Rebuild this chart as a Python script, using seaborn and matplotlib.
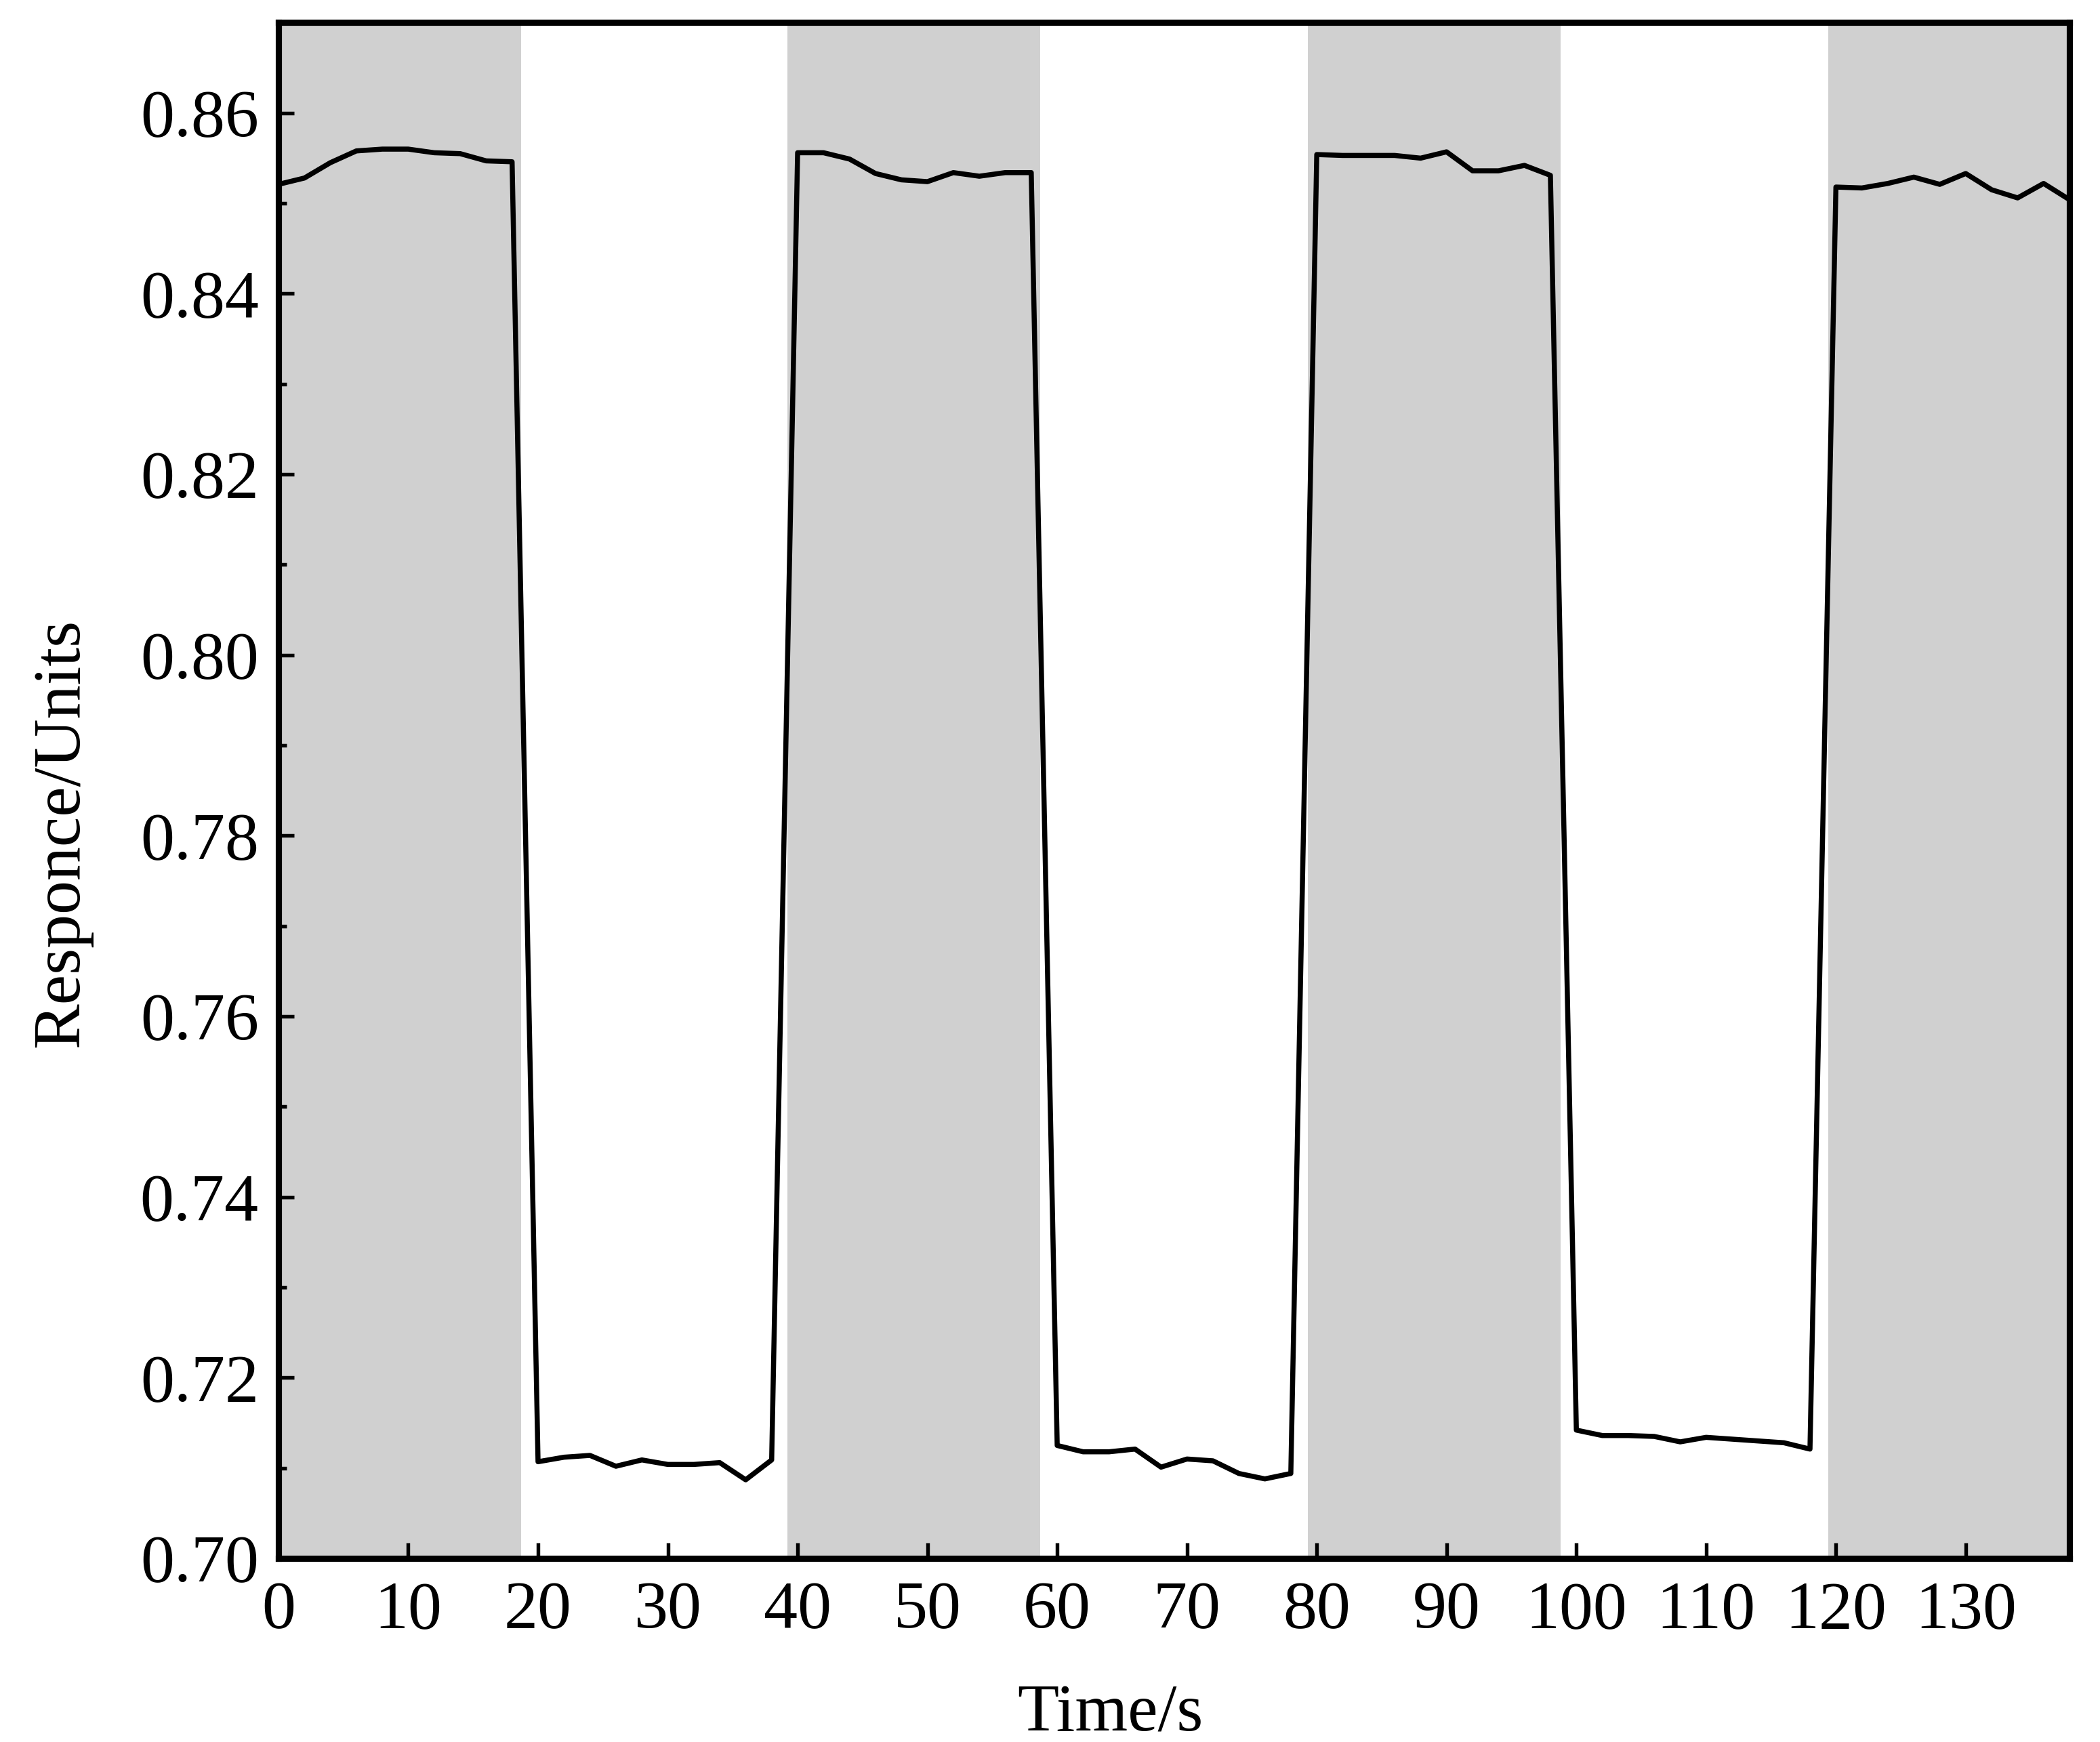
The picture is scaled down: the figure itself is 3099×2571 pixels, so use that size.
import numpy as np
import pandas as pd
import seaborn as sns
import matplotlib.pyplot as plt
from matplotlib.ticker import MultipleLocator

# Datos (muestreo cada 2 s)
time = [0, 2, 4, 6, 8, 10, 12, 14, 16, 18,
        20, 22, 24, 26, 28, 30, 32, 34, 36, 38,
        40, 42, 44, 46, 48, 50, 52, 54, 56, 58,
        60, 62, 64, 66, 68, 70, 72, 74, 76, 78,
        80, 82, 84, 86, 88, 90, 92, 94, 96, 98,
        100, 102, 104, 106, 108, 110, 112, 114, 116, 118,
        120, 122, 124, 126, 128, 130, 132, 134, 136, 138]

high_1 = [0.8521, 0.8528, 0.8545, 0.8558, 0.8560, 0.8560, 0.8556, 0.8555, 0.8547, 0.8546]
low_1 = [0.7107, 0.7112, 0.7114, 0.7102, 0.7109, 0.7104, 0.7104, 0.7106, 0.7087, 0.7109]
high_2 = [0.8556, 0.8556, 0.8549, 0.8533, 0.8526, 0.8524, 0.8534, 0.8530, 0.8534, 0.8534]
low_2 = [0.7125, 0.7118, 0.7118, 0.7121, 0.7101, 0.7110, 0.7108, 0.7094, 0.7088, 0.7094]
high_3 = [0.8554, 0.8553, 0.8553, 0.8553, 0.8550, 0.8557, 0.8536, 0.8536, 0.8542, 0.8531]
low_3 = [0.7142, 0.7136, 0.7136, 0.7135, 0.7129, 0.7134, 0.7132, 0.7130, 0.7128, 0.7121]
high_4 = [0.8518, 0.8517, 0.8522, 0.8529, 0.8521, 0.8533, 0.8515, 0.8506, 0.8522, 0.8504]

response = high_1 + low_1 + high_2 + low_2 + high_3 + low_3 + high_4

# zonas sombreadas (gas encendido)
band_start = [0, 39.2, 79.3, 119.4]
band_end = [18.7, 58.7, 98.8, 138]

df = pd.DataFrame({'time': time, 'response': response})

sns.set_style('ticks')
plt.rcParams['font.family'] = ['Liberation Serif', 'DejaVu Serif']
plt.rcParams['mathtext.fontset'] = 'stix'

fig = plt.figure(figsize=(3099 / 300, 2571 / 300), dpi=300)
ax = fig.add_axes([0.1326, 0.1054, 0.9855 - 0.1326, 0.987 - 0.1054])

for s, e in zip(band_start, band_end):
    ax.axvspan(s, e, color='#d0d0d0', lw=0, zorder=0)

sns.lineplot(data=df, x='time', y='response', color='black', lw=1.8, ax=ax, zorder=3)

ax.set_xlim(0, 138)
ax.set_ylim(0.70, 0.87)
ax.xaxis.set_major_locator(MultipleLocator(10))
ax.yaxis.set_major_locator(MultipleLocator(0.02))
ax.yaxis.set_minor_locator(MultipleLocator(0.01))
ax.yaxis.set_major_formatter(plt.FormatStrFormatter('%.2f'))

ax.tick_params(axis='both', which='major', direction='in', length=5.5, width=1.3,
               labelsize=24, colors='black')
ax.tick_params(axis='x', pad=8)
ax.tick_params(axis='y', pad=7)
ax.tick_params(axis='y', which='minor', direction='in', length=2.8, width=1.3, colors='black')

for sp in ax.spines.values():
    sp.set_visible(True)
    sp.set_linewidth(2.2)
    sp.set_color('black')

ax.set_xlabel('Time/s', fontsize=24, labelpad=14, color='black')
ax.set_ylabel('Responce/Units', fontsize=24, labelpad=17, color='black')
ax.xaxis.set_label_coords(0.4644, -0.082)
ax.yaxis.label.set_y(0.4725)

fig.savefig('out.png', dpi=300)
